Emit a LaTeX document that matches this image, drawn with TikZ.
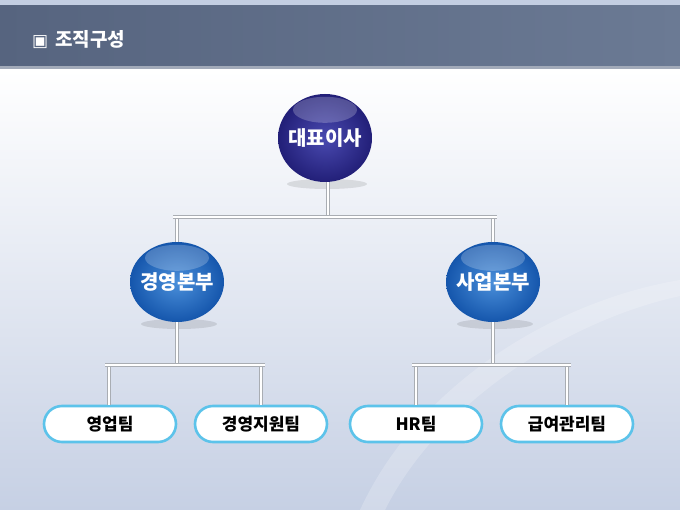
\documentclass[tikz,border=0pt]{standalone}
\usepackage{fontspec}
\setmainfont{Noto Sans CJK KR}
\newfontfamily\symfont{DejaVu Sans}
\usetikzlibrary{shapes.geometric,calc}
\definecolor{hdr}{HTML}{56647F}
\definecolor{hdrR}{HTML}{6B7A94}
\definecolor{topstrip}{HTML}{C3CEE2}
\definecolor{bgbot}{HTML}{C6D0E4}
\definecolor{navy}{HTML}{221F78}
\definecolor{navyL}{HTML}{4A4AB0}
\definecolor{mblue}{HTML}{1556AC}
\definecolor{mblueL}{HTML}{4A8FDA}
\definecolor{cyanb}{HTML}{5CC3EA}
\definecolor{conngray}{HTML}{A9ADB3}
\tikzset{
  conn/.style={draw=conngray, line width=1.3pt, double=white, double distance=1.8pt},
  topball/.style={ellipse, minimum width=94pt, minimum height=88pt, inner sep=0pt,
    shading=radial, outer color=navy, inner color=navyL},
  midball/.style={ellipse, minimum width=94pt, minimum height=80pt, inner sep=0pt,
    shading=radial, outer color=mblue, inner color=mblueL},
  balltext/.style={text=white, font=\bfseries\fontsize{20}{22}\selectfont},
  teambox/.style={rectangle, rounded corners=18pt, minimum width=132pt, minimum height=36pt,
    draw=cyanb, line width=2.6pt, fill=white, text=black, font=\bfseries\fontsize{17}{19}\selectfont},
}
\begin{document}
\begin{tikzpicture}[x=1pt,y=-1pt]
\useasboundingbox (0,0) rectangle (680,510);
% background
\shade[top color=white, bottom color=bgbot] (0,70) rectangle (680,510);
\fill[white, opacity=0.2] (360,510) .. controls (420,380) and (560,300) .. (680,280) -- (680,296) .. controls (570,320) and (440,400) .. (385,510) -- cycle;
% header
\fill[topstrip] (0,0) rectangle (680,6);
\shade[left color=hdr, right color=hdrR] (0,6) rectangle (680,66);
\fill[hdr!55!white] (0,66) rectangle (680,69);
\node[anchor=west, text=white, inner sep=0pt] (title) at (32,40)
  {{\symfont\fontsize{17}{19}\selectfont ▣}\hspace{7pt}{\bfseries\fontsize{19}{21}\selectfont 조직구성}};
% shadows
\fill[black, opacity=0.10] (327,184) ellipse (40pt and 5pt);
\fill[black, opacity=0.10] (179,324) ellipse (38pt and 5pt);
\fill[black, opacity=0.10] (495,324) ellipse (38pt and 5pt);
% coordinates
\coordinate (j0) at (328,217);
\coordinate (hl) at (173,217);
\coordinate (hr) at (497,217);
\coordinate (l1) at (177,217);
\coordinate (r1) at (493,217);
\coordinate (ja) at (177,365);
\coordinate (al) at (105,365);
\coordinate (ar) at (265,365);
\coordinate (a1) at (109,365);
\coordinate (a2) at (261,365);
\coordinate (jb) at (493,365);
\coordinate (bl) at (412,365);
\coordinate (br) at (571,365);
\coordinate (b1) at (416,365);
\coordinate (b2) at (567,365);
% team boxes
\node[teambox] (t1) at (110,424) {영업팀};
\node[teambox] (t2) at (261,424) {경영지원팀};
\node[teambox] (t3) at (416,424) {HR팀};
\node[teambox] (t4) at (567,424) {급여관리팀};
% connectors
\draw[conn] (j0) -- (328,180);
\draw[conn] (l1) -- (177,245);
\draw[conn] (r1) -- (493,245);
\draw[conn] (hl) -- (hr);
\draw[conn] (ja) -- (177,318);
\draw[conn] (a1) -- (t1.north -| a1);
\draw[conn] (a2) -- (t2.north -| a2);
\draw[conn] (al) -- (ar);
\draw[conn] (jb) -- (493,318);
\draw[conn] (b1) -- (t3.north -| b1);
\draw[conn] (b2) -- (t4.north -| b2);
\draw[conn] (bl) -- (br);
% balls
\node[topball] (ceo) at (325,138) {};
\node[midball] (m1) at (177,282) {};
\node[midball] (m2) at (493,282) {};
\foreach \n in {ceo,m1,m2}{
  \fill[white, opacity=0.22] ($(\n.north)+(0,16)$) ellipse (32pt and 13pt);
}
\node[balltext] (ceot) at (ceo) {대표이사};
\node[balltext] (m1t) at (m1) {경영본부};
\node[balltext] (m2t) at (m2) {사업본부};
\end{tikzpicture}
\end{document}
